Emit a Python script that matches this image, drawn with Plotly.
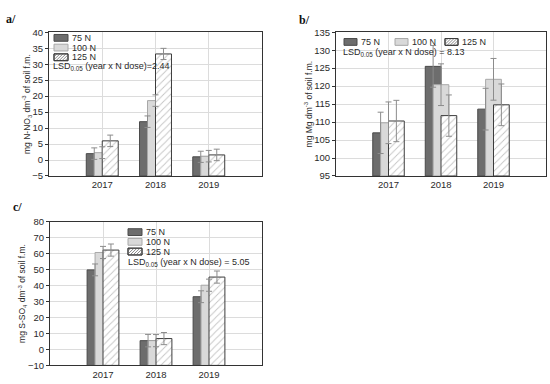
import plotly.graph_objects as go

W, H = 550, 384

years = ["2017", "2018", "2019"]
doses = ["75 N", "100 N", "125 N"]
xpos = [1, 2, 3]

# Panel a: N-NO3
no3 = {
    "75 N": [2.0, 12.0, 1.0],
    "100 N": [2.3, 18.6, 1.2],
    "125 N": [6.0, 33.2, 1.6],
}
no3_err = {
    "75 N": [1.8, 1.8, 1.75],
    "100 N": [1.85, 1.8, 1.8],
    "125 N": [1.8, 1.75, 1.8],
}
# Panel b: Mg
mg = {
    "75 N": [107.0, 125.5, 113.6],
    "100 N": [109.8, 120.4, 121.9],
    "125 N": [110.3, 111.8, 114.8],
}
mg_err = {
    "75 N": [5.75, 5.8, 5.8],
    "100 N": [5.8, 5.8, 5.8],
    "125 N": [5.75, 5.75, 5.8],
}
# Panel c: S-SO4
so4 = {
    "75 N": [49.8, 5.5, 33.0],
    "100 N": [60.7, 5.5, 40.2],
    "125 N": [62.2, 6.8, 45.3],
}
so4_err = {
    "75 N": [3.7, 3.9, 3.7],
    "100 N": [3.8, 3.8, 3.8],
    "125 N": [3.8, 3.8, 3.8],
}

lsd_a, lsd_b, lsd_c = "2.44", "8.13", "5.05"

FONT = "Liberation Sans, Arial, sans-serif"
TXT = "#2a2a2a"
BARW = 0.3
offsets = {"75 N": -0.3, "100 N": -0.15, "125 N": 0.0}
styles = {
    "75 N": dict(color="#6d6d6d", line=dict(color="#4a4a4a", width=1)),
    "100 N": dict(color="#d9d9d9", line=dict(color="#a8a8a8", width=1)),
    "125 N": dict(color="white", line=dict(color="#3c3c3c", width=1),
                  pattern=dict(shape="/", fgcolor="#8a8a8a", bgcolor="white",
                               size=5, solidity=0.18)),
}


def px(x):
    return x / W


def py(y):
    return 1 - y / H


fig = go.Figure()

panels = [
    ("x", "y", no3, no3_err, -5, 40, 5,
     "mg N-NO<sub>3</sub> dm<sup>-3</sup> of soil f.m.",
     [49, 262], [27, 175]),
    ("x2", "y2", mg, mg_err, 95, 135, 5,
     "mg Mg dm<sup>-3</sup> of soil f.m.",
     [336, 546], [27, 175]),
    ("x3", "y3", so4, so4_err, -10, 80, 10,
     "mg S-SO<sub>4</sub> dm<sup>-3</sup> of soil f.m.",
     [50, 262], [222, 370]),
]

for xa, ya, data, err, ymin, ymax, dt, title, xd, yd in panels:
    for d in doses:
        fig.add_trace(go.Bar(
            x=xpos, y=[v - ymin for v in data[d]], base=ymin,
            offset=offsets[d], width=BARW, marker=styles[d],
            name=d, showlegend=False, xaxis=xa, yaxis=ya,
        ))
    for d in doses:
        fig.add_trace(go.Scatter(
            x=[p + offsets[d] + BARW / 2 for p in xpos], y=data[d],
            mode="markers", marker=dict(size=1, opacity=0),
            error_y=dict(type="data", array=err[d], color="#8c8c8c",
                         thickness=1, width=3),
            showlegend=False, hoverinfo="skip", xaxis=xa, yaxis=ya,
        ))
    kx = "xaxis" if xa == "x" else "xaxis" + xa[1:]
    ky = "yaxis" if ya == "y" else "yaxis" + ya[1:]
    fig.layout[kx] = dict(
        domain=[px(xd[0]), px(xd[1])], range=[0, 4], anchor=ya,
        tickvals=xpos, ticktext=years, showgrid=True, gridcolor="#dcdcdc",
        gridwidth=1, zeroline=False, showline=True, mirror=True,
        linecolor="#333333", linewidth=1, ticks="",
        tickfont=dict(family=FONT, size=9.5, color=TXT),
    )
    fig.layout[ky] = dict(
        domain=[py(yd[1]), py(yd[0])], range=[ymin, ymax], anchor=xa,
        tick0=ymin, dtick=dt, showgrid=True, gridcolor="#dcdcdc",
        gridwidth=1, zeroline=False, showline=True, mirror=True,
        linecolor="#333333", linewidth=1, ticks="outside", ticklen=3,
        tickcolor="#333333",
        tickfont=dict(family=FONT, size=9.5, color=TXT),
        title=dict(text=title, font=dict(family=FONT, size=8.5, color=TXT),
                   standoff=0),
    )

shapes = []
annotations = []


def hatch(x0, y0, w, h, step=3.0):
    lines = []
    a = x0 - h
    while a < x0 + w:
        tmin = max(0.0, x0 - a)
        tmax = min(h, x0 + w - a)
        if tmax > tmin:
            lines.append((a + tmin, y0 + h - tmin, a + tmax, y0 + h - tmax))
        a += step
    return lines


def legend_item(x0, y0, dose, w=14, h=7):
    st = styles[dose]
    shapes.append(dict(type="rect", xref="paper", yref="paper",
                       x0=px(x0), x1=px(x0 + w), y0=py(y0 + h), y1=py(y0),
                       fillcolor=st["color"],
                       line=dict(color=st["line"]["color"], width=1)))
    if dose == "125 N":
        for (xa_, ya_, xb_, yb_) in hatch(x0, y0, w, h):
            shapes.append(dict(type="line", xref="paper", yref="paper",
                               x0=px(xa_), y0=py(ya_), x1=px(xb_), y1=py(yb_),
                               line=dict(color="#8a8a8a", width=1)))
        shapes.append(dict(type="rect", xref="paper", yref="paper",
                           x0=px(x0), x1=px(x0 + w), y0=py(y0 + h), y1=py(y0),
                           line=dict(color=st["line"]["color"], width=1)))
    annotations.append(dict(text=dose, xref="paper", yref="paper",
                            x=px(x0 + w + 2), y=py(y0 + h / 2),
                            xanchor="left", yanchor="middle", showarrow=False,
                            font=dict(family=FONT, size=9, color=TXT)))


def note(text, x, y):
    annotations.append(dict(text=text, xref="paper", yref="paper",
                            x=px(x), y=py(y), xanchor="left", yanchor="middle",
                            showarrow=False,
                            font=dict(family=FONT, size=9, color=TXT)))


# Panel a legend (vertical)
for i, d in enumerate(doses):
    legend_item(54, 29.3 + i * 10, d)
note("LSD<sub>0.05</sub> (year x N dose)=" + lsd_a, 51, 62.5)

# Panel b legend (horizontal)
for xl, d in zip([344, 395, 445], doses):
    legend_item(xl, 33.5, d, w=13)
note("LSD<sub>0.05</sub> (year x N dose) = " + lsd_b, 341, 48)

# Panel c legend (vertical)
for i, d in enumerate(doses):
    legend_item(128, 229.3 + i * 10, d)
note("LSD<sub>0.05</sub> (year x N dose) = " + lsd_c, 126, 264)

# Panel labels
for lab, x, y in [("a/", 4, 13), ("b/", 297, 14), ("c/", 11, 207)]:
    annotations.append(dict(text="<b>" + lab + "</b>", xref="paper",
                            yref="paper", x=px(x), y=py(y), xanchor="left",
                            yanchor="middle", showarrow=False,
                            font=dict(family="Liberation Serif, serif",
                                      size=12, color="#111111")))

fig.update_layout(
    width=W, height=H, autosize=False,
    margin=dict(l=0, r=0, t=0, b=0),
    paper_bgcolor="white", plot_bgcolor="white",
    barmode="overlay", showlegend=False,
    shapes=shapes, annotations=annotations,
    font=dict(family=FONT, color=TXT),
)

fig.write_html("out.html", config={"displayModeBar": False},
               post_script="document.body.style.margin='0';")
